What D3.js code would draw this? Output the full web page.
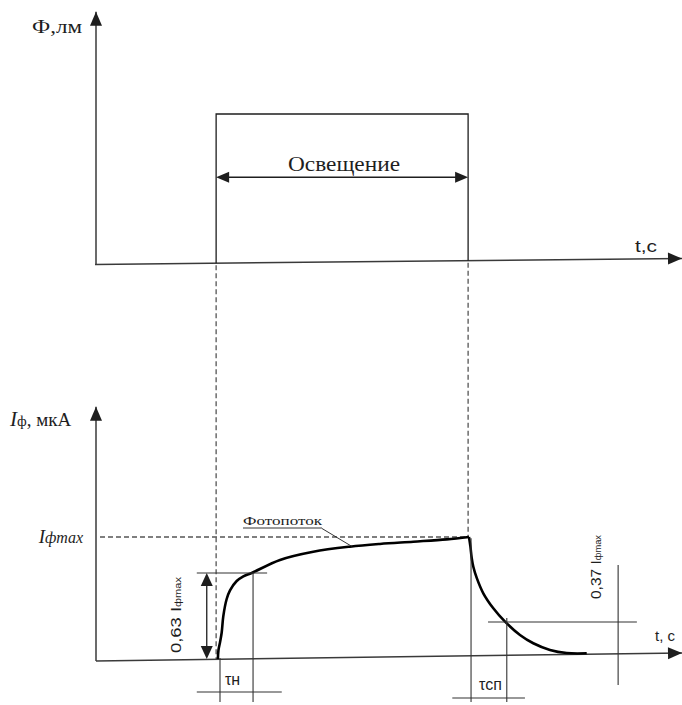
<!DOCTYPE html>
<html>
<head>
<meta charset="utf-8">
<script src="https://cdn.jsdelivr.net/npm/d3@7"></script>
<style>
    body { margin: 0; background: #fff; }
    svg { display: block; }
</style>
</head>
<body>
<svg id="renderer" width="682" height="705"></svg>
<script>
const SERIF = '"Liberation Serif", "Times New Roman", serif';
const SANS = '"Liberation Sans", Arial, sans-serif';
const INK = '#1e1e1e';
const AXIS_COLOR = '#3a3a3a';

// ---- data (time in arbitrary units, flux / current normalised to max) ----
const T_MAX = 10;
const pulseT = [2.05, 6.35];          // light on / light off
const fluxOn = 1;
const topTilt = 0.04;                 // top t-axis rises this much over 0..T_MAX
const botTilt = 0.065;                // bottom t-axis rises this much over 0..T_MAX
const fluxArrowLevel = 0.58;          // level of the "Освещение" arrow
const topAxisMax = 1.68;
const botAxisMax = 2.05;

const riseT = [2.08, 2.09, 2.116, 2.145, 2.172, 2.23, 2.287, 2.401, 2.514, 2.657, 3.14, 3.708, 4.334, 4.846, 5.415, 5.985, 6.365];
const riseI = [0.016, 0.089, 0.15, 0.23, 0.36, 0.5, 0.57, 0.645, 0.683, 0.71, 0.815, 0.881, 0.922, 0.944, 0.962, 0.981, 1.0];
const fallT = [6.365, 6.39, 6.411, 6.439, 6.497, 6.609, 6.78, 6.98, 7.235, 7.462, 7.747, 8.032, 8.374];
const fallI = [1.0, 0.92, 0.831, 0.76, 0.67, 0.546, 0.425, 0.317, 0.21, 0.143, 0.089, 0.064, 0.062];

// guide segments [t1, i1, t2, i2]
const tauRiseGuides = [
    [1.72, 0.71, 2.92, 0.71],
    [2.68, 0.71, 2.68, -0.33],
    [2.116, 0.024, 2.116, -0.33],
    [1.72, -0.25, 3.17, -0.25]
];
const tauFallGuides = [
    [6.40, 0.99, 6.40, -0.33],
    [7.01, 0.347, 7.01, -0.33],
    [6.69, 0.315, 9.23, 0.315],
    [8.91, 0.774, 8.91, -0.194],
    [6.08, -0.298, 7.32, -0.298]
];
const riseArrow = [1.89, 0.71, 0.016];   // t, top level, bottom level

// ---- scales ----
const x = d3.scaleLinear().domain([0, T_MAX]).range([96, 682]);
const yTop = d3.scaleLinear().domain([0, fluxOn]).range([264.5, 114]);
const yBot = d3.scaleLinear().domain([0, 1]).range([661, 537]);

const g = d3.select('#renderer').append('g');

function seg(x1, y1, x2, y2, stroke, width, dash) {
    return g.append('line')
        .attr('x1', x1).attr('y1', y1)
        .attr('x2', x2).attr('y2', y2)
        .attr('stroke', stroke)
        .attr('stroke-width', width)
        .attr('stroke-dasharray', dash || null);
}

function arrowHead(px, py, angle, len, half) {
    g.append('path')
        .attr('d', 'M0,0 L' + (-len) + ',' + (-half) + ' L' + (-len) + ',' + half + ' Z')
        .attr('transform', 'translate(' + px + ',' + py + ') rotate(' + angle + ')')
        .attr('fill', INK);
}

function axisLine(x1, y1, x2, y2) {
    seg(x1, y1, x2, y2, AXIS_COLOR, 1.5);
    let a = Math.atan2(y2 - y1, x2 - x1) * 180 / Math.PI;
    arrowHead(x2, y2, a, 14, 6);
}

// ---- top chart: light flux ----
axisLine(x(0), yTop(0), x(0), yTop(topAxisMax));
axisLine(x(0) - 1, yTop(0), x(T_MAX), yTop(topTilt));

const pulse = d3.line().x(d => x(d[0])).y(d => yTop(d[1]));
g.append('path')
    .attr('d', pulse([
        [pulseT[0], topTilt * pulseT[0] / T_MAX],
        [pulseT[0], fluxOn],
        [pulseT[1], fluxOn],
        [pulseT[1], topTilt * pulseT[1] / T_MAX]
    ]))
    .attr('fill', 'none')
    .attr('stroke', INK)
    .attr('stroke-width', 1.3);

// double arrow "Освещение"
seg(x(pulseT[0]) + 8, yTop(fluxArrowLevel), x(pulseT[1]) - 8, yTop(fluxArrowLevel), INK, 1.4);
arrowHead(x(pulseT[0]), yTop(fluxArrowLevel), 180, 13, 5.5);
arrowHead(x(pulseT[1]), yTop(fluxArrowLevel), 0, 13, 5.5);

g.append('text')
    .text('Освещение')
    .attr('x', 344)
    .attr('y', yTop(fluxArrowLevel) - 6)
    .attr('text-anchor', 'middle')
    .attr('font-family', SERIF)
    .attr('font-size', 21)
    .attr('textLength', 112)
    .attr('lengthAdjust', 'spacingAndGlyphs')
    .attr('fill', INK);

g.append('text')
    .text('Ф,лм')
    .attr('x', 32).attr('y', 33)
    .attr('font-family', SERIF)
    .attr('font-size', 19)
    .attr('textLength', 50)
    .attr('lengthAdjust', 'spacingAndGlyphs')
    .attr('fill', INK);

g.append('text')
    .text('t,c')
    .attr('x', 635).attr('y', 252)
    .attr('font-family', SANS)
    .attr('font-size', 17)
    .attr('textLength', 22)
    .attr('lengthAdjust', 'spacingAndGlyphs')
    .attr('fill', INK);

// dashed projection lines
seg(x(pulseT[0]), yTop(topTilt * pulseT[0] / T_MAX) + 2, x(pulseT[0]), yBot(riseI[0]), '#555', 1.3, '5,3');
seg(x(pulseT[1]), yTop(topTilt * pulseT[1] / T_MAX) + 2, x(pulseT[1]), yBot(1), '#555', 1.3, '5,3');

// ---- bottom chart: photocurrent ----
axisLine(x(0), yBot(0), x(0), yBot(botAxisMax));
axisLine(x(0), yBot(0), x(T_MAX), yBot(botTilt));

seg(x(0) + 4, yBot(1), x(pulseT[1]), yBot(1), '#555', 1.3, '5,3');

const curve = d3.line().x(d => x(d[0])).y(d => yBot(d[1])).curve(d3.curveCatmullRom.alpha(0.5));
g.append('path')
    .attr('d', curve(riseT.map((t, i) => [t, riseI[i]])))
    .attr('fill', 'none')
    .attr('stroke', '#000')
    .attr('stroke-width', 2.6);
g.append('path')
    .attr('d', curve(fallT.map((t, i) => [t, fallI[i]])))
    .attr('fill', 'none')
    .attr('stroke', '#000')
    .attr('stroke-width', 2.6);

// time-constant guides
tauRiseGuides.concat(tauFallGuides).forEach(function (s) {
    seg(x(s[0]), yBot(s[1]), x(s[2]), yBot(s[3]), '#333', 1.1);
});

// 0,63 double arrow
seg(x(riseArrow[0]), yBot(riseArrow[1]) + 10, x(riseArrow[0]), yBot(riseArrow[2]) - 10, INK, 1.3);
arrowHead(x(riseArrow[0]), yBot(riseArrow[1]), -90, 13, 6);
arrowHead(x(riseArrow[0]), yBot(riseArrow[2]), 90, 13, 6);

// labels
let ylab = g.append('text')
    .attr('x', 10).attr('y', 426)
    .attr('font-family', SERIF)
    .attr('fill', INK);
ylab.append('tspan').text('I').attr('font-style', 'italic').attr('font-size', 21);
ylab.append('tspan').text('ф').attr('font-size', 15);
ylab.append('tspan').text(', мкА').attr('font-size', 19);

let imax = g.append('text')
    .attr('x', 83).attr('y', yBot(1) + 6)
    .attr('text-anchor', 'end')
    .attr('font-family', SERIF)
    .attr('font-style', 'italic')
    .attr('fill', INK);
imax.append('tspan').text('I').attr('font-size', 19);
imax.append('tspan').text('фmax').attr('font-size', 16);

g.append('text')
    .text('t, c')
    .attr('x', 655).attr('y', 641)
    .attr('font-family', SANS)
    .attr('font-size', 15)
    .attr('fill', INK);

g.append('text')
    .text('Фотопоток')
    .attr('x', 243).attr('y', 525)
    .attr('font-family', SERIF)
    .attr('font-size', 12)
    .attr('textLength', 79)
    .attr('lengthAdjust', 'spacingAndGlyphs')
    .attr('fill', INK);
seg(243, 528, 322, 528, INK, 0.9);
seg(322, 528.5, 352, 546.5, INK, 0.9);

g.append('text')
    .text('τн')
    .attr('x', 225).attr('y', 685)
    .attr('font-family', SANS)
    .attr('font-size', 16)
    .attr('fill', INK);
g.append('text')
    .text('τсп')
    .attr('x', 479).attr('y', 690)
    .attr('font-family', SANS)
    .attr('font-size', 16)
    .attr('fill', INK);

function rotLabel(cx, cy, main, sub, len) {
    let t = g.append('text')
        .attr('transform', 'translate(' + cx + ',' + cy + ') rotate(-90)')
        .attr('text-anchor', 'middle')
        .attr('font-family', SANS)
        .attr('textLength', len)
        .attr('lengthAdjust', 'spacingAndGlyphs')
        .attr('fill', INK);
    t.append('tspan').text(main).attr('font-size', 15);
    t.append('tspan').text(sub).attr('font-size', 9);
}
rotLabel(181, 615, '0,63 I', 'фmax', 76);
rotLabel(601, 567, '0,37 I', 'фmax', 64);
</script>
</body>
</html>
